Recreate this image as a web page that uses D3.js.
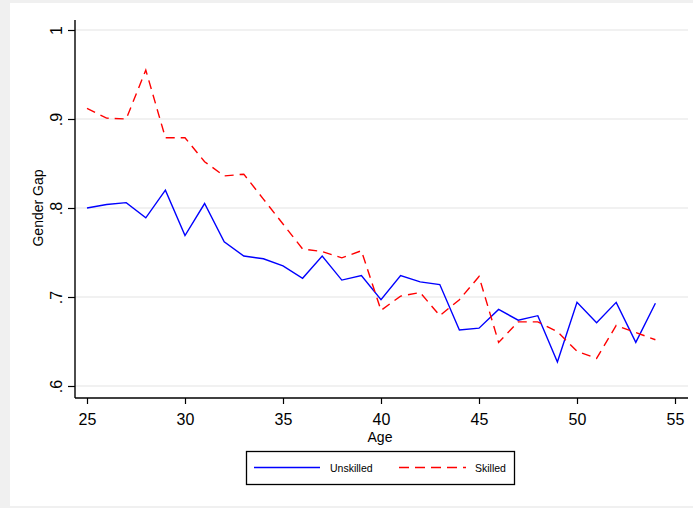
<!DOCTYPE html>
<html>
<head>
<meta charset="utf-8">
<script src="https://cdn.jsdelivr.net/npm/d3@7"></script>
<style>
html,body{margin:0;padding:0;background:#f0f0f0;}
svg{display:block;}
text{font-family:"Liberation Sans",Arial,sans-serif;fill:#000;}
</style>
</head>
<body>
<script>
const ages = [25,26,27,28,29,30,31,32,33,34,35,36,37,38,39,40,41,42,43,44,45,46,47,48,49,50,51,52,53,54];
const unskilled = [0.800,0.804,0.806,0.789,0.820,0.769,0.805,0.762,0.746,0.743,0.735,0.721,0.746,0.719,0.724,0.697,0.724,0.717,0.714,0.663,0.665,0.686,0.674,0.679,0.627,0.694,0.671,0.694,0.649,0.693];
const skilled = [0.912,0.901,0.900,0.955,0.879,0.879,0.852,0.836,0.838,0.810,0.782,0.754,0.751,0.744,0.752,0.685,0.701,0.705,0.679,0.697,0.723,0.649,0.672,0.672,0.661,0.639,0.631,0.668,0.660,0.652];
const xTicks = [25,30,35,40,45,50,55];
const yTicks = [0.6,0.7,0.8,0.9,1.0];
const yTickLabels = [".6",".7",".8",".9","1"];
const seriesNames = ["Unskilled","Skilled"];

(function(){
const W = 693, H = 508;
const svg = d3.select("body").append("svg").attr("width", W).attr("height", H);

// white panel
svg.append("rect").attr("x",10).attr("y",3).attr("width",W-10).attr("height",503).attr("fill","#fff");

const x = d3.scaleLinear().domain([25,55]).range([87,675]);
const y = d3.scaleLinear().domain([0.6,1.0]).range([386,30]);
const pL = 75, pR = 688, pT = 20, pB = 398;

// gridlines
svg.append("g").selectAll("line").data(yTicks).join("line")
  .attr("x1",pL).attr("x2",pR)
  .attr("y1",d=>y(d)).attr("y2",d=>y(d))
  .attr("stroke","#e4e4e4").attr("stroke-width",1.2);

// y axis
const yAxis = d3.axisLeft(y).tickValues(yTicks).tickSize(7).tickFormat((d,i)=>yTickLabels[i]);
const gy = svg.append("g").attr("transform",`translate(${pL},0)`).call(yAxis);
gy.select(".domain").remove();
gy.selectAll(".tick line").attr("stroke","#000").attr("stroke-width",1.2);
gy.selectAll(".tick text")
  .attr("x",0).attr("dy",0)
  .attr("transform","translate(-13.5,0) rotate(-90)")
  .attr("text-anchor","middle")
  .style("font-size","16px").style("font-family","'Liberation Sans',Arial,sans-serif");
svg.append("line").attr("x1",pL).attr("x2",pL).attr("y1",pT).attr("y2",pB)
  .attr("stroke","#000").attr("stroke-width",1.4);

// x axis
const xAxis = d3.axisBottom(x).tickValues(xTicks).tickSize(6).tickFormat(d3.format("d"));
const gx = svg.append("g").attr("transform",`translate(0,${pB})`).call(xAxis);
gx.select(".domain").remove();
gx.selectAll(".tick line").attr("stroke","#000").attr("stroke-width",1.2);
gx.selectAll(".tick text").attr("y",27).attr("dy",0)
  .style("font-size","16px").style("font-family","'Liberation Sans',Arial,sans-serif");
svg.append("line").attr("x1",pL).attr("x2",pR).attr("y1",pB).attr("y2",pB)
  .attr("stroke","#000").attr("stroke-width",1.4);

// axis titles
svg.append("text").attr("x",380).attr("y",442).attr("text-anchor","middle")
  .style("font-size","14px").text("Age");
svg.append("text").attr("transform","translate(42.5,208) rotate(-90)").attr("text-anchor","middle")
  .style("font-size","14px").text("Gender Gap");

// lines
const line = d3.line().x((d,i)=>x(ages[i])).y(d=>y(d));
svg.append("path").datum(unskilled).attr("d",line)
  .attr("fill","none").attr("stroke","#0000ff").attr("stroke-width",1.4).attr("stroke-linejoin","miter");
svg.append("path").datum(skilled).attr("d",line)
  .attr("fill","none").attr("stroke","#ff0000").attr("stroke-width",1.4)
  .attr("stroke-dasharray","9,6");

// legend
const lg = svg.append("g");
lg.append("rect").attr("x",246.5).attr("y",451.5).attr("width",268).attr("height",33)
  .attr("fill","#fff").attr("stroke","#000").attr("stroke-width",1.3);
lg.append("line").attr("x1",254).attr("x2",320).attr("y1",467.5).attr("y2",467.5)
  .attr("stroke","#0000ff").attr("stroke-width",1.4);
lg.append("text").attr("x",330).attr("y",471.5).style("font-size","10.5px").text(seriesNames[0]);
lg.append("line").attr("x1",399).attr("x2",466).attr("y1",467.5).attr("y2",467.5)
  .attr("stroke","#ff0000").attr("stroke-width",1.4).attr("stroke-dasharray","10,6");
lg.append("text").attr("x",475).attr("y",471.5).style("font-size","10.5px").text(seriesNames[1]);
})();
</script>
</body>
</html>
